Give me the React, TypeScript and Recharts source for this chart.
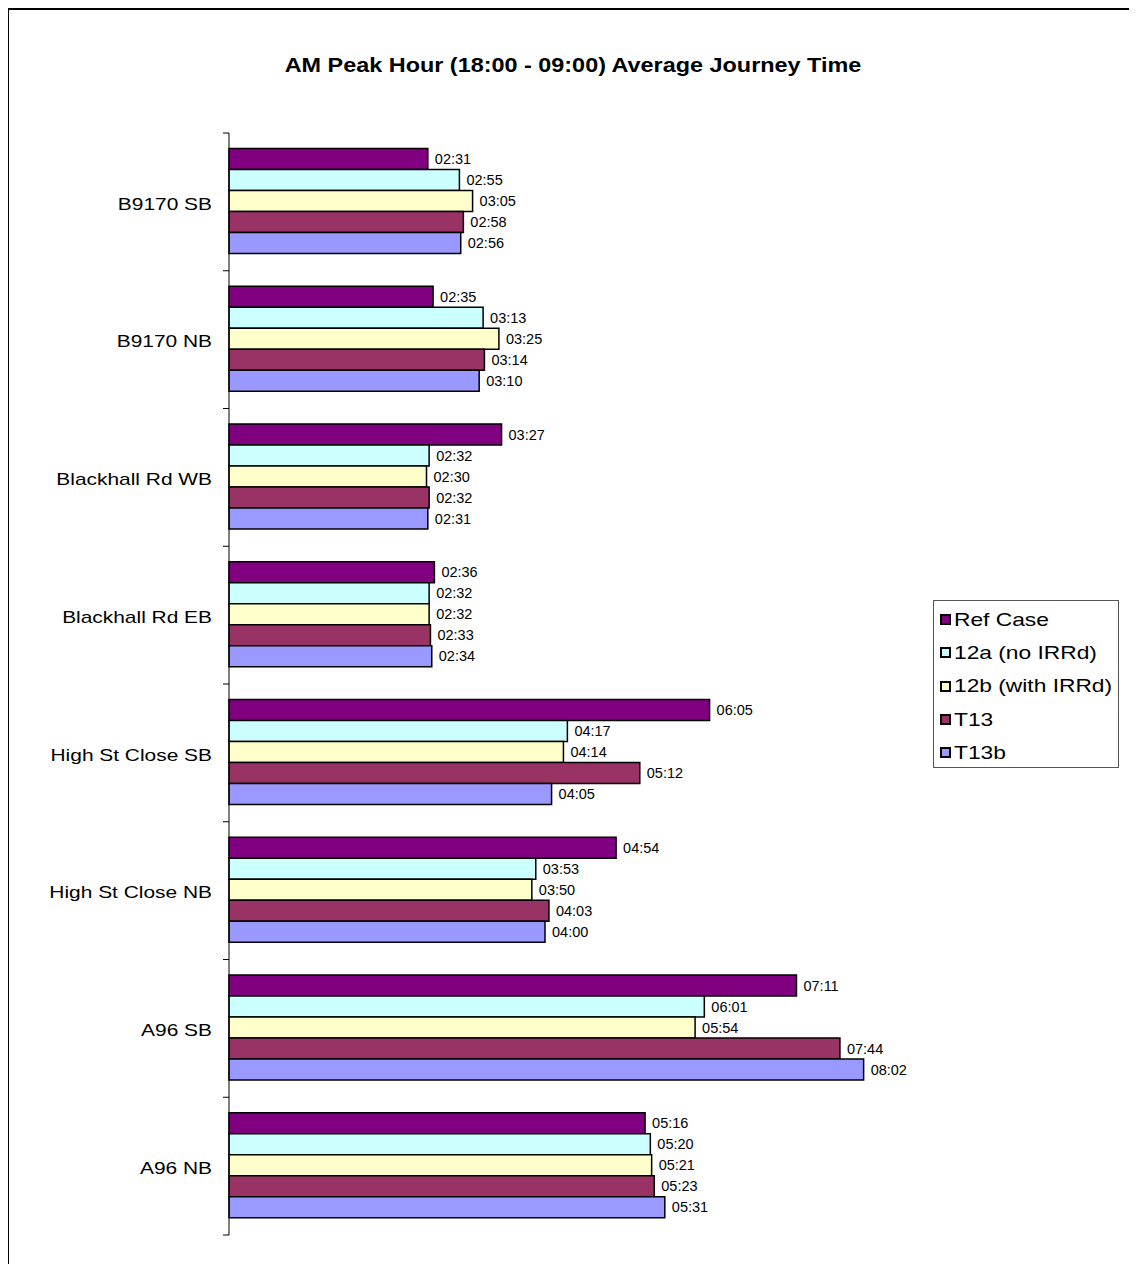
import { BarChart, Bar, XAxis, YAxis, LabelList } from "recharts";

const categories = [
  "B9170 SB",
  "B9170 NB",
  "Blackhall Rd WB",
  "Blackhall Rd EB",
  "High St Close SB",
  "High St Close NB",
  "A96 SB",
  "A96 NB",
];

// journey times as mm:ss
const refCase = ["02:31", "02:35", "03:27", "02:36", "06:05", "04:54", "07:11", "05:16"];
const s12a = ["02:55", "03:13", "02:32", "02:32", "04:17", "03:53", "06:01", "05:20"];
const s12b = ["03:05", "03:25", "02:30", "02:32", "04:14", "03:50", "05:54", "05:21"];
const t13 = ["02:58", "03:14", "02:32", "02:33", "05:12", "04:03", "07:44", "05:23"];
const t13b = ["02:56", "03:10", "02:31", "02:34", "04:05", "04:00", "08:02", "05:31"];

const series = [
  { key: "refCase", name: "Ref Case", color: "#800080", values: refCase },
  { key: "s12a", name: "12a (no IRRd)", color: "#CCFFFF", values: s12a },
  { key: "s12b", name: "12b (with IRRd)", color: "#FFFFCC", values: s12b },
  { key: "t13", name: "T13", color: "#993366", values: t13 },
  { key: "t13b", name: "T13b", color: "#9999FF", values: t13b },
];

const FONT = '"Liberation Sans", Arial, sans-serif';
// the original picture is stretched sideways a little
const STRETCH = 1.23;

const toSec = (s: string) => {
  const [m, sec] = s.split(":").map(Number);
  return m * 60 + sec;
};

const fmt = (v: number) => {
  const m = Math.floor(v / 60);
  const s = v % 60;
  return `${String(m).padStart(2, "0")}:${String(s).padStart(2, "0")}`;
};

const data = categories.map((name, i) => {
  const row: Record<string, string | number> = { name };
  series.forEach(s => (row[s.key] = toSec(s.values[i])));
  return row;
});

// category label plus the between-category tick marks
function renderTick(props: any) {
  const { x, y, payload, index } = props;
  const half = payload?.offset ?? 0;
  const axisX = x + 17;
  return (
    <g key={`tick-${index}`}>
      <line x1={axisX - 6} x2={axisX} y1={y - half} y2={y - half} stroke="#000" />
      {index === categories.length - 1 && (
        <line x1={axisX - 6} x2={axisX} y1={y + half} y2={y + half} stroke="#000" />
      )}
      <text
        transform={`translate(${x},${y}) scale(${STRETCH},1)`}
        dy="0.45em"
        textAnchor="end"
        fontSize={17}
        fill="#000"
        fontFamily={FONT}
      >
        {payload?.value}
      </text>
    </g>
  );
}

export default function App() {
  return (
    <div
      style={{
        position: "relative",
        width: 1140,
        height: 1270,
        border: "2px solid #000",
        marginLeft: -1,
        fontFamily: FONT,
        background: "#fff",
      }}
    >
      <style>{"body{overflow:hidden}"}</style>
      <div
        style={{
          position: "absolute",
          left: 0,
          width: 1128,
          top: 44,
          textAlign: "center",
          fontSize: 19.5,
          fontWeight: "bold",
          transform: "scaleX(1.2)",
          transformOrigin: "564px 0",
        }}
      >
        AM Peak Hour (18:00 - 09:00) Average Journey Time
      </div>

      <div style={{ position: "absolute", left: 0, top: 0 }}>
        <BarChart
          width={1128}
          height={1240}
          data={data}
          layout="vertical"
          margin={{ top: 123, right: 197, bottom: 15, left: 0 }}
          barCategoryGap={15.5}
          barGap={0}
        >
          <XAxis type="number" domain={[0, 540]} hide />
          <YAxis
            type="category"
            dataKey="name"
            width={220}
            axisLine={{ stroke: "#000" }}
            tickLine={false}
            tickSize={0}
            tickMargin={17}
            tick={renderTick}
            interval={0}
          />
          {series.map(s => (
            <Bar
              key={s.key}
              dataKey={s.key}
              name={s.name}
              fill={s.color}
              stroke="#000"
              strokeWidth={1.5}
              isAnimationActive={false}
            >
              <LabelList
                dataKey={s.key}
                position="right"
                offset={7}
                fontSize={14.5}
                fill="#000"
                fontFamily={FONT}
                formatter={(v: any) => fmt(Number(v))}
              />
            </Bar>
          ))}
        </BarChart>
      </div>

      {/* legend */}
      <div
        style={{
          position: "absolute",
          left: 924,
          top: 590,
          width: 186,
          height: 168,
          border: "1px solid #555",
          background: "#fff",
          boxSizing: "border-box",
          paddingTop: 2,
        }}
      >
        {series.map(s => (
          <div
            key={s.key}
            style={{ display: "flex", alignItems: "center", height: 33.3, paddingLeft: 6, fontSize: 18.5 }}
          >
            <span
              style={{
                width: 11,
                height: 11,
                background: s.color,
                border: "2px solid #000",
                boxSizing: "border-box",
                marginRight: 3,
                flexShrink: 0,
              }}
            />
            <span
              style={{
                display: "inline-block",
                whiteSpace: "nowrap",
                transform: `scaleX(${STRETCH})`,
                transformOrigin: "0 50%",
              }}
            >
              {s.name}
            </span>
          </div>
        ))}
      </div>
    </div>
  );
}
